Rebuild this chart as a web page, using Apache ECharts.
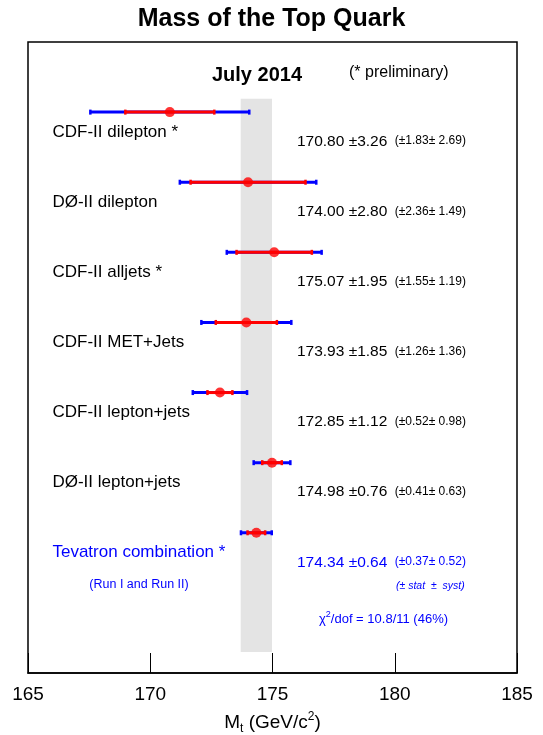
<!DOCTYPE html>
<html>
<head>
<meta charset="utf-8">
<script src="https://cdn.jsdelivr.net/npm/echarts@6/dist/echarts.min.js"></script>
<style>html,body{margin:0;padding:0;background:#fff;}#c{width:543px;height:735px;}</style>
</head>
<body>
<div id="c"></div>
<script>
const categories = ['CDF-II dilepton *', 'D\u00D8-II dilepton', 'CDF-II alljets *', 'CDF-II MET+Jets', 'CDF-II lepton+jets', 'D\u00D8-II lepton+jets', 'Tevatron combination *'];
const mass    = [170.80, 174.00, 175.07, 173.93, 172.85, 174.98, 174.34];
const totErr  = [3.26, 2.80, 1.95, 1.85, 1.12, 0.76, 0.64];
const statErr = [1.83, 2.36, 1.55, 1.26, 0.52, 0.41, 0.37];
const systErr = [2.69, 1.49, 1.19, 1.36, 0.98, 0.63, 0.52];
const xTicks  = [165, 170, 175, 180, 185];

const FONT = "'Liberation Sans', Arial, sans-serif";
const BLUE = '#0000ff';
const RED = '#ff0000';
const combIdx = categories.length - 1;

const chart = echarts.init(document.getElementById('c'));

const barData = mass.map((m, i) => [m, i, totErr[i], statErr[i], systErr[i]]);

function renderBars(params, api) {
  const m = api.value(0), i = api.value(1), t = api.value(2), s = api.value(3);
  const pL = api.coord([m - t, i]), pR = api.coord([m + t, i]);
  const sL = api.coord([m - s, i]), sR = api.coord([m + s, i]);
  const y = pL[1];
  return {
    type: 'group',
    children: [
      {type: 'line', shape: {x1: pL[0], y1: y, x2: pR[0], y2: y}, style: {stroke: BLUE, lineWidth: 3}},
      {type: 'rect', shape: {x: pL[0] - 1, y: y - 2.5, width: 2.5, height: 5}, style: {fill: BLUE}},
      {type: 'rect', shape: {x: pR[0] - 1.5, y: y - 2.5, width: 2.5, height: 5}, style: {fill: BLUE}},
      {type: 'line', shape: {x1: sL[0], y1: y, x2: sR[0], y2: y}, style: {stroke: RED, lineWidth: 3}},
      {type: 'rect', shape: {x: sL[0] - 1, y: y - 2.5, width: 2.5, height: 5}, style: {fill: RED}},
      {type: 'rect', shape: {x: sR[0] - 1.5, y: y - 2.5, width: 2.5, height: 5}, style: {fill: RED}}
    ]
  };
}

function renderTexts(params, api) {
  const i = api.value(1);
  const m = api.value(0), t = api.value(2), s = api.value(3), sy = api.value(4);
  const col = i === combIdx ? BLUE : '#000';
  const pN = api.coord([166, i]);
  const pV = api.coord([176, i]);
  const pD = api.coord([180, i]);
  return {
    type: 'group',
    children: [
      {type: 'text', x: pN[0], y: pN[1] + 20, style: {text: categories[i], fill: col, font: '17px ' + FONT, textAlign: 'left', textVerticalAlign: 'middle'}},
      {type: 'text', x: pV[0], y: pV[1] + 29.5, style: {text: m.toFixed(2) + ' \u00B1' + t.toFixed(2), fill: col, font: '15.5px ' + FONT, textAlign: 'left', textVerticalAlign: 'middle'}},
      {type: 'text', x: pD[0], y: pD[1] + 29, style: {text: '(\u00B1' + s.toFixed(2) + '\u00B1 ' + sy.toFixed(2) + ')', fill: col, font: '12px ' + FONT, textAlign: 'left', textVerticalAlign: 'middle'}}
    ]
  };
}

function renderBand(params, api) {
  const lo = api.value(0) - api.value(2), hi = api.value(0) + api.value(2);
  const a = api.coord([lo, -0.19]), b = api.coord([hi, 7.7]);
  return {type: 'rect', shape: {x: a[0], y: a[1], width: b[0] - a[0], height: b[1] - a[1]}, style: {fill: '#e4e4e4'}};
}

chart.setOption({
  animation: false,
  backgroundColor: '#fff',
  title: {
    text: 'Mass of the Top Quark', left: 'center', top: 2,
    textStyle: {fontFamily: FONT, fontSize: 25, fontWeight: 'bold', color: '#000'}
  },
  grid: {left: 28, right: 26, top: 42, bottom: 62, show: true, borderColor: '#000', borderWidth: 1.5, backgroundColor: 'transparent', containLabel: false, outerBoundsMode: 'none'},
  xAxis: {
    type: 'value', min: xTicks[0], max: xTicks[xTicks.length - 1], interval: xTicks[1] - xTicks[0],
    axisLine: {show: true, onZero: false, lineStyle: {color: '#000', width: 1.5}},
    axisTick: {show: true, inside: true, length: 20, lineStyle: {color: '#000', width: 1}},
    axisLabel: {fontFamily: FONT, fontSize: 19, color: '#000', margin: 12, showMinLabel: true, showMaxLabel: true},
    splitLine: {show: false},
    name: '{a|M}{sub|t}{a| (GeV/c}{sup|2}{a|)}',
    nameLocation: 'middle', nameGap: 38,
    nameTextStyle: {
      rich: {
        a: {fontFamily: FONT, fontSize: 19, color: '#000'},
        sub: {fontFamily: FONT, fontSize: 12, color: '#000', padding: [12, 0, 0, 0]},
        sup: {fontFamily: FONT, fontSize: 12, color: '#000', padding: [0, 0, 12, 0]}
      }
    }
  },
  yAxis: {type: 'value', min: -1, max: 8, inverse: true, show: false},
  series: [
    {type: 'custom', z: 1, renderItem: renderBand, data: [barData[combIdx]], silent: true},
    {type: 'custom', z: 3, renderItem: renderBars, data: barData, silent: true},
    {type: 'scatter', z: 5, symbol: 'circle', symbolSize: 10, itemStyle: {color: RED}, data: mass.map((m, i) => [m, i]), silent: true},
    {type: 'custom', z: 4, renderItem: renderTexts, data: barData, silent: true}
  ],
  graphic: [
    {type: 'text', x: 257, y: 75, style: {text: 'July 2014', font: 'bold 20px ' + FONT, fill: '#000', textAlign: 'center', textVerticalAlign: 'middle'}},
    {type: 'text', x: 349, y: 73, style: {text: '(* preliminary)', font: '16px ' + FONT, fill: '#000', textAlign: 'left', textVerticalAlign: 'middle'}},
    {type: 'text', x: 139, y: 585, style: {text: '(Run I and Run II)', font: '12.5px ' + FONT, fill: BLUE, textAlign: 'center', textVerticalAlign: 'middle'}},
    {type: 'text', x: 396, y: 586, style: {text: '(\u00B1 stat  \u00B1  syst)', font: 'italic 10.5px ' + FONT, fill: BLUE, textAlign: 'left', textVerticalAlign: 'middle'}},
    {type: 'text', x: 319, y: 619, style: {
      text: '{a|\u03C7}{s|2}{a|/dof = 10.8/11 (46%)}',
      textAlign: 'left', textVerticalAlign: 'middle',
      rich: {
        a: {fontFamily: FONT, fontSize: 13, fill: BLUE},
        s: {fontFamily: FONT, fontSize: 9, fill: BLUE, padding: [0, 0, 8, 0]}
      }
    }}
  ]
});
</script>
</body>
</html>
